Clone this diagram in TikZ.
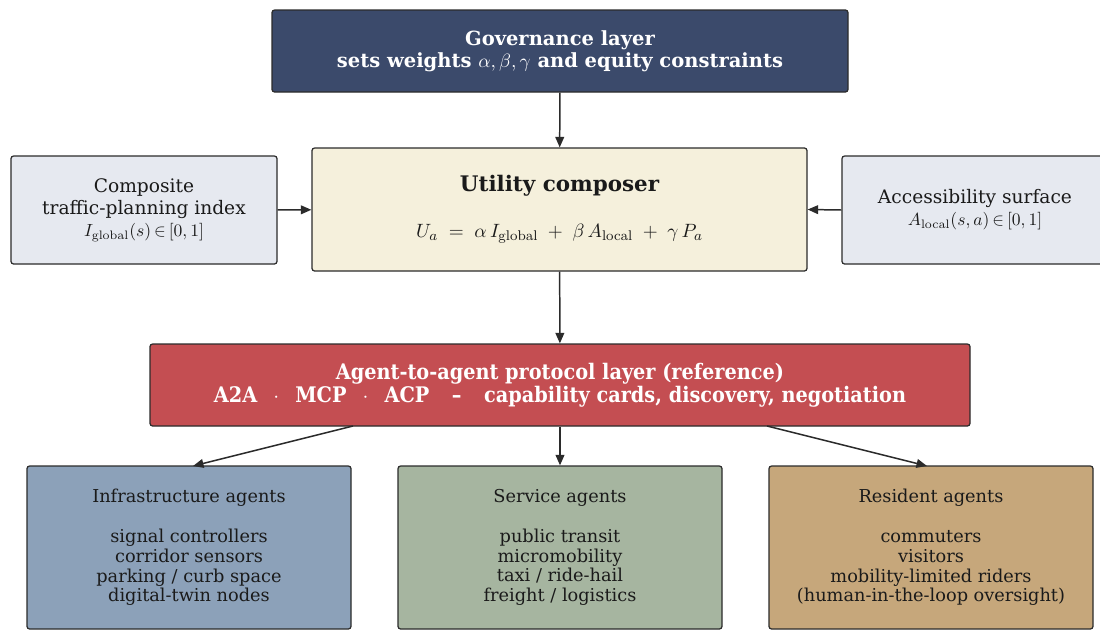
\documentclass[tikz,border=0pt]{standalone}
\usepackage[no-math]{fontspec}
\setmainfont{DejaVu Serif}
\newfontfamily\condfont{DejaVu Serif}[FakeStretch=0.9]
\usetikzlibrary{arrows.meta}
\definecolor{govfill}{HTML}{3B4A6B}
\definecolor{inputfill}{HTML}{E6E9F0}
\definecolor{utilfill}{HTML}{F5F0DC}
\definecolor{protofill}{HTML}{C44E52}
\definecolor{infrafill}{HTML}{8CA1B9}
\definecolor{servfill}{HTML}{A6B5A0}
\definecolor{resfill}{HTML}{C6A77B}
\definecolor{edge}{HTML}{2B2B2B}
\definecolor{ink}{HTML}{1A1A1A}
\newcommand{\memb}{\,{\in}\,}
\newcommand{\gapsep}{\hspace{0.75em}}
\begin{document}
\begin{tikzpicture}[x=0.02cm,y=-0.02cm,
  box/.style={draw=edge, line width=0.7pt, rounded corners=1.5pt, align=center, inner sep=0pt, text=ink},
  arr/.style={-{Stealth[length=6pt,width=5pt,inset=0pt]}, draw=edge, line width=0.85pt},
  agent/.style={box, minimum width={324*0.02cm}, minimum height={163*0.02cm}, font=\fontsize{10.1}{11.3}\selectfont}
]
\useasboundingbox (0,0) rectangle (1100,630);
\node[box, fill=govfill, text=white, minimum width={576*0.02cm}, minimum height={82*0.02cm},
  font=\fontsize{11.1}{12.4}\selectfont\bfseries] (gov) at (560,51)
  {Governance layer\\sets weights $\alpha,\beta,\gamma$ and equity constraints};
\node[box, fill=inputfill, minimum width={266*0.02cm}, minimum height={108*0.02cm},
  font=\fontsize{10.6}{12.6}\selectfont] (comp) at (144,210)
  {Composite\\traffic-planning index\\{\fontsize{10}{12}\selectfont$I_{\mathrm{global}}(s)\memb[0,1]$}};
\node[box, fill=utilfill, minimum width={495*0.02cm}, minimum height={123*0.02cm}] (util) at (559.5,209.5)
  {{\fontsize{12.2}{13}\selectfont\bfseries Utility composer}\\[14pt]
   {\fontsize{10.9}{12}\selectfont $U_a \;=\; \alpha\, I_{\mathrm{global}} \;+\; \beta\, A_{\mathrm{local}} \;+\; \gamma\, P_a$}};
\node[box, fill=inputfill, minimum width={266*0.02cm}, minimum height={108*0.02cm},
  font=\fontsize{10.6}{12.6}\selectfont] (acc) at (975,210)
  {Accessibility surface\\{\fontsize{10}{12}\selectfont$A_{\mathrm{local}}(s,a)\memb[0,1]$}};
\node[box, fill=protofill, text=white, minimum width={820*0.02cm}, minimum height={82*0.02cm},
  font=\fontsize{12.2}{12.8}\selectfont\condfont\bfseries] (proto) at (560,385)
  {Agent-to-agent protocol layer (reference)\\A2A\gapsep$\cdot$\gapsep MCP\gapsep$\cdot$\gapsep ACP\gapsep\hspace{0.3em}\textendash\gapsep\hspace{0.3em}capability cards, discovery, negotiation};
\node[agent, fill=infrafill] (infra) at (189,547.5)
  {Infrastructure agents\\[11.3pt]signal controllers\\corridor sensors\\parking / curb space\\digital-twin nodes};
\node[agent, fill=servfill] (serv) at (560,547.5)
  {Service agents\\[11.3pt]public transit\\micromobility\\taxi / ride-hail\\freight / logistics};
\node[agent, fill=resfill] (res) at (931,547.5)
  {Resident agents\\[11.3pt]commuters\\visitors\\mobility-limited riders\\(human-in-the-loop oversight)};
\coordinate (pl) at (353,426);
\coordinate (pr) at (767,426);
\coordinate (il) at (193,466);
\coordinate (ir) at (927,466);
\draw[arr] (gov) -- (util);
\draw[arr] (comp) -- (util);
\draw[arr] (acc.west) -- (util.east);
\draw[arr] (util) -- (proto);
\draw[arr] (pl) -- (il);
\draw[arr] (proto) -- (serv);
\draw[arr] (pr) -- (ir);
\end{tikzpicture}
\end{document}
